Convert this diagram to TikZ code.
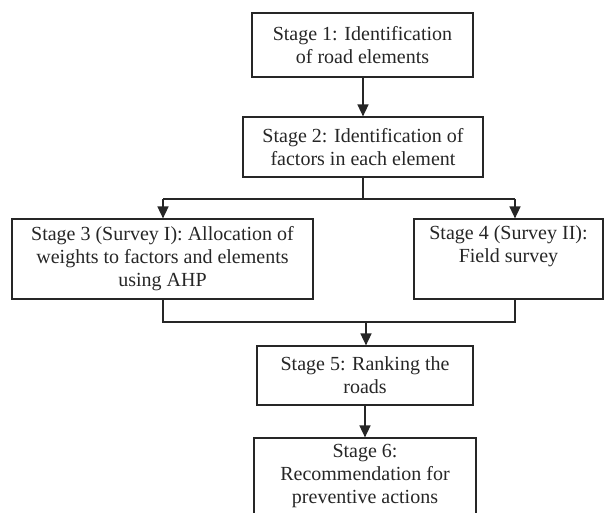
\documentclass[tikz,border=0pt]{standalone}
\usepackage{fontspec}
\setmainfont{Liberation Serif}
\usetikzlibrary{arrows.meta}
\begin{document}
\begin{tikzpicture}[x=1pt,y=-1pt,
  stagebox/.style={draw=black!85,line width=1.2pt,rectangle,inner sep=0pt,align=center,
    font=\fontsize{20}{23}\selectfont,text=black!85},
  stagetext/.style={inner sep=0pt,align=center,font=\fontsize{20}{23}\selectfont,text=black!85},
  conn/.style={line width=1.6pt,draw=black!85},
  arr/.style={conn,-{Triangle[length=12pt,width=11pt]}}]
\clip (0,0) rectangle (605,513);
\useasboundingbox (0,0) rectangle (605,513);
\node[stagebox,minimum width=221pt,minimum height=64pt] (s1) at (362.5,45) {Stage 1: Identification\\of road elements};
\node[stagebox,minimum width=240pt,minimum height=60pt] (s2) at (363,147) {Stage 2: Identification of\\factors in each element};
\node[stagebox,minimum width=301pt,minimum height=80pt] (s3) at (162.5,259) {Stage 3 (Survey I): Allocation of\\weights to factors and elements\\using AHP};
\node[stagebox,minimum width=189pt,minimum height=80pt] (s4) at (508.5,259) {Stage 4 (Survey II):\\Field survey\\\strut};
\node[stagebox,minimum width=216pt,minimum height=59pt] (s5) at (365,375.5) {Stage 5: Ranking the\\roads};
\node[stagebox,minimum width=222pt,minimum height=88pt] (s6) at (365,482) {};
\node[stagetext] (s6t) at (365,476) {Stage 6:\\Recommendation for\\preventive actions};
\coordinate (split) at (363,199);
\coordinate (splitL) at (163,199);
\coordinate (splitR) at (515,199);
\coordinate (mergeL) at (163,322);
\coordinate (mergeR) at (515,322);
\coordinate (mergeC) at (366,322);
\draw[arr] (s1.south -| split) -- (s2.north -| split);
\draw[conn] (s2.south -| split) -- (split);
\draw[conn] (splitL) -- (splitR);
\draw[arr] (splitL) -- (s3.north -| splitL);
\draw[arr] (splitR) -- (s4.north -| splitR);
\draw[conn] (s3.south -| mergeL) -- (mergeL) -- (mergeR) -- (s4.south -| mergeR);
\draw[arr] (mergeC) -- (s5.north -| mergeC);
\draw[arr] (s5.south) -- (s6.north);
\end{tikzpicture}
\end{document}
